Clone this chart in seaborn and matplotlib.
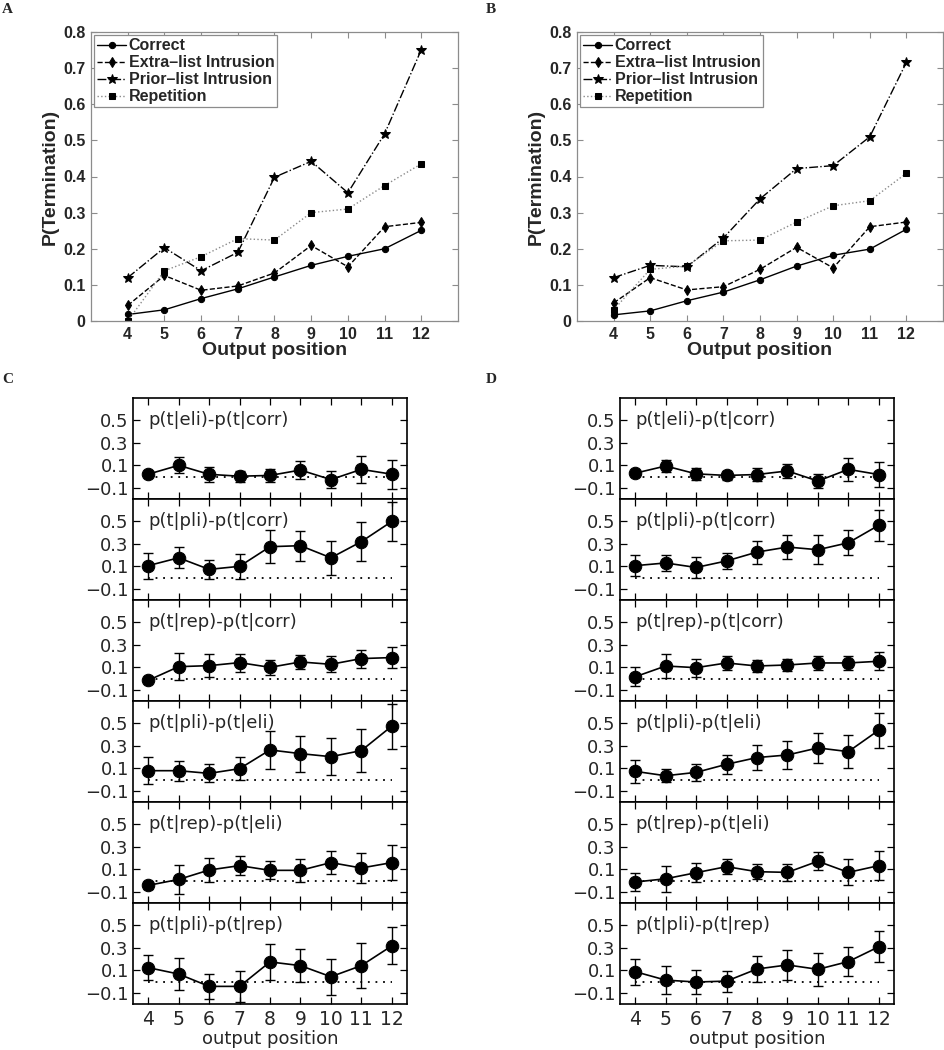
import numpy as np
import pandas as pd
import matplotlib
matplotlib.use("Agg")
import matplotlib.pyplot as plt
import seaborn as sns

# ---------------- data ----------------
positions = [4, 5, 6, 7, 8, 9, 10, 11, 12]

# Panel A
a_correct = [0.018, 0.031, 0.062, 0.089, 0.122, 0.154, 0.179, 0.200, 0.251]
a_extra = [0.043, 0.126, 0.085, 0.097, 0.133, 0.209, 0.150, 0.261, 0.273]
a_prior = [0.120, 0.203, 0.139, 0.190, 0.398, 0.442, 0.355, 0.518, 0.751]
a_rep = [0.000, 0.139, 0.178, 0.228, 0.224, 0.300, 0.310, 0.375, 0.435]

# Panel B
b_correct = [0.017, 0.028, 0.056, 0.080, 0.114, 0.152, 0.182, 0.199, 0.254]
b_extra = [0.050, 0.120, 0.086, 0.095, 0.143, 0.204, 0.147, 0.261, 0.274]
b_prior = [0.120, 0.154, 0.150, 0.230, 0.338, 0.422, 0.430, 0.510, 0.716]
b_rep = [0.031, 0.143, 0.152, 0.222, 0.224, 0.274, 0.319, 0.333, 0.409]

series_names = ["Correct", "Extra\u2013list Intrusion", "Prior\u2013list Intrusion", "Repetition"]

contrast_labels = ["p(t|eli)-p(t|corr)", "p(t|pli)-p(t|corr)", "p(t|rep)-p(t|corr)",
                   "p(t|pli)-p(t|eli)", "p(t|rep)-p(t|eli)", "p(t|pli)-p(t|rep)"]

# Panel C means and error half-widths
c_eli_corr = [0.021, 0.100, 0.020, 0.003, 0.010, 0.058, -0.027, 0.064, 0.021]
c_eli_corr_err = [0.020, 0.070, 0.065, 0.050, 0.060, 0.080, 0.075, 0.120, 0.130]
c_pli_corr = [0.106, 0.176, 0.073, 0.100, 0.275, 0.284, 0.176, 0.320, 0.500]
c_pli_corr_err = [0.115, 0.095, 0.085, 0.110, 0.145, 0.135, 0.150, 0.175, 0.170]
c_rep_corr = [-0.016, 0.106, 0.115, 0.142, 0.100, 0.148, 0.127, 0.178, 0.187]
c_rep_corr_err = [0.010, 0.120, 0.100, 0.080, 0.065, 0.060, 0.070, 0.080, 0.090]
c_pli_eli = [0.079, 0.079, 0.055, 0.097, 0.264, 0.231, 0.204, 0.258, 0.476]
c_pli_eli_err = [0.120, 0.090, 0.080, 0.100, 0.170, 0.160, 0.165, 0.190, 0.200]
c_rep_eli = [-0.043, 0.010, 0.094, 0.133, 0.091, 0.091, 0.160, 0.112, 0.160]
c_rep_eli_err = [0.030, 0.130, 0.105, 0.085, 0.080, 0.100, 0.105, 0.130, 0.155]
c_pli_rep = [0.124, 0.067, -0.043, -0.043, 0.175, 0.142, 0.043, 0.142, 0.318]
c_pli_rep_err = [0.110, 0.140, 0.110, 0.135, 0.160, 0.150, 0.160, 0.200, 0.165]

# Panel D means and error half-widths
d_eli_corr = [0.030, 0.094, 0.024, 0.010, 0.018, 0.050, -0.040, 0.064, 0.018]
d_eli_corr_err = [0.020, 0.050, 0.055, 0.040, 0.055, 0.060, 0.060, 0.100, 0.110]
d_pli_corr = [0.106, 0.130, 0.090, 0.148, 0.227, 0.272, 0.248, 0.310, 0.466]
d_pli_corr_err = [0.095, 0.070, 0.090, 0.072, 0.103, 0.110, 0.130, 0.110, 0.140]
d_rep_corr = [0.016, 0.112, 0.097, 0.139, 0.112, 0.121, 0.139, 0.139, 0.154]
d_rep_corr_err = [0.085, 0.110, 0.080, 0.063, 0.053, 0.050, 0.062, 0.064, 0.080]
d_pli_eli = [0.073, 0.034, 0.064, 0.136, 0.196, 0.219, 0.282, 0.249, 0.440]
d_pli_eli_err = [0.100, 0.060, 0.075, 0.085, 0.113, 0.123, 0.137, 0.150, 0.155]
d_rep_eli = [-0.013, 0.016, 0.070, 0.124, 0.079, 0.073, 0.172, 0.073, 0.133]
d_rep_eli_err = [0.078, 0.115, 0.087, 0.066, 0.066, 0.075, 0.080, 0.115, 0.130]
d_pli_rep = [0.088, 0.013, -0.004, 0.004, 0.112, 0.148, 0.109, 0.178, 0.310]
d_pli_rep_err = [0.117, 0.127, 0.107, 0.093, 0.117, 0.130, 0.145, 0.130, 0.140]

c_means = [c_eli_corr, c_pli_corr, c_rep_corr, c_pli_eli, c_rep_eli, c_pli_rep]
c_errs = [c_eli_corr_err, c_pli_corr_err, c_rep_corr_err, c_pli_eli_err, c_rep_eli_err, c_pli_rep_err]
d_means = [d_eli_corr, d_pli_corr, d_rep_corr, d_pli_eli, d_rep_eli, d_pli_rep]
d_errs = [d_eli_corr_err, d_pli_corr_err, d_rep_corr_err, d_pli_eli_err, d_rep_eli_err, d_pli_rep_err]

# ---------------- style ----------------
sns.set_theme(style="ticks")
plt.rcParams["font.family"] = ["DejaVu Sans"]

W, H = 945, 1050
fig = plt.figure(figsize=(W / 100, H / 100), dpi=100)


def px_axes(left, top, right, bottom):
    return fig.add_axes([left / W, 1 - bottom / H, (right - left) / W, (bottom - top) / H])


line_styles = [
    dict(linestyle="-", marker="o", color="black", markersize=4.5),
    dict(linestyle="--", marker="d", color="black", markersize=5.5),
    dict(linestyle="-.", marker="*", color="black", markersize=7.5),
    dict(linestyle=":", marker="s", color="#8a8a8a", markersize=4.5,
         markerfacecolor="black", markeredgecolor="black"),
]

bold_sans = dict(family=["Liberation Sans", "DejaVu Sans"], weight="bold")


def top_panel(ax, series):
    for name, vals, st in zip(series_names, series, line_styles):
        kw = dict(st)
        mfc = kw.pop("markerfacecolor", kw["color"])
        mec = kw.pop("markeredgecolor", kw["color"])
        sns.lineplot(x=positions, y=vals, ax=ax, label=name, linewidth=1.0,
                     markerfacecolor=mfc, markeredgecolor=mec, **kw)
    ax.set_xlim(3, 13)
    ax.set_ylim(0, 0.8)
    ax.set_xticks(positions)
    ax.set_yticks(np.arange(0, 0.81, 0.1))
    ax.set_yticklabels(["0"] + ["%.1f" % v for v in np.arange(0.1, 0.81, 0.1)])
    for s in ax.spines.values():
        s.set_color("#8c8c8c")
        s.set_linewidth(0.9)
        s.set_visible(True)
    ax.tick_params(direction="in", top=True, right=True, length=4, width=0.8,
                   color="#8c8c8c", pad=4)
    for lab in ax.get_xticklabels() + ax.get_yticklabels():
        lab.set_fontproperties(matplotlib.font_manager.FontProperties(
            family="Liberation Sans", weight="bold", size=11.5))
    ax.set_xlabel("Output position", fontsize=14, labelpad=0, **bold_sans)
    ax.set_ylabel("P(Termination)", fontsize=14, labelpad=3, **bold_sans)
    leg = ax.legend(loc="upper left", prop=dict(family="Liberation Sans", weight="bold", size=11.5),
                    frameon=True, fancybox=False, edgecolor="#8c8c8c", framealpha=1,
                    borderaxespad=0.2, borderpad=0.2, labelspacing=0.12,
                    handlelength=1.8, handletextpad=0.15)
    leg.get_frame().set_linewidth(0.9)


axA = px_axes(91, 32, 458, 321)
top_panel(axA, [a_correct, a_extra, a_prior, a_rep])
axB = px_axes(577, 32, 943, 321)
top_panel(axB, [b_correct, b_extra, b_prior, b_rep])


def contrast_column(left, right, means, errs):
    top0 = 398
    row_h = 101
    axes = []
    for i in range(6):
        ax = px_axes(left, top0 + i * row_h, right, top0 + (i + 1) * row_h)
        ax.plot([positions[0], positions[-1]], [0, 0], linestyle=(0, (1, 3.2)),
                color="black", linewidth=1.3)
        ax.errorbar(positions, means[i], yerr=errs[i], fmt="none", ecolor="black",
                    elinewidth=1.0, capsize=3.3, capthick=1.0)
        sns.lineplot(x=positions, y=means[i], ax=ax, color="black", linewidth=1.2,
                     marker="o", markersize=9, markeredgecolor="black",
                     markerfacecolor="black")
        ax.text(4, 0.5, contrast_labels[i], ha="left", va="center", fontsize=13)
        ax.set_xlim(3.5, 12.5)
        ax.set_ylim(-0.2, 0.7)
        ax.set_xticks(positions)
        ax.set_yticks([-0.1, 0.1, 0.3, 0.5])
        for s in ax.spines.values():
            s.set_color("black")
            s.set_linewidth(1.2)
            s.set_visible(True)
        ax.tick_params(direction="in", top=True, right=True, length=5, width=0.9,
                       color="black", labelsize=13, pad=3)
        if i < 5:
            ax.tick_params(labelbottom=False)
        else:
            ax.set_xlabel("output position", fontsize=13, labelpad=1)
            ax.tick_params(axis="x", labelsize=13.5, pad=4)
        axes.append(ax)
    return axes


contrast_column(133, 407, c_means, c_errs)
contrast_column(620, 894, d_means, d_errs)

serif_bold = dict(family=["Liberation Serif", "DejaVu Serif"], weight="bold", fontsize=11)
fig.text(2 / W, 1 - 3 / H, "A", ha="left", va="top", **serif_bold)
fig.text(486 / W, 1 - 3 / H, "B", ha="left", va="top", **serif_bold)
fig.text(2 / W, 1 - 373 / H, "C", ha="left", va="top", **serif_bold)
fig.text(486 / W, 1 - 373 / H, "D", ha="left", va="top", **serif_bold)

fig.savefig("out.png", dpi=100)
